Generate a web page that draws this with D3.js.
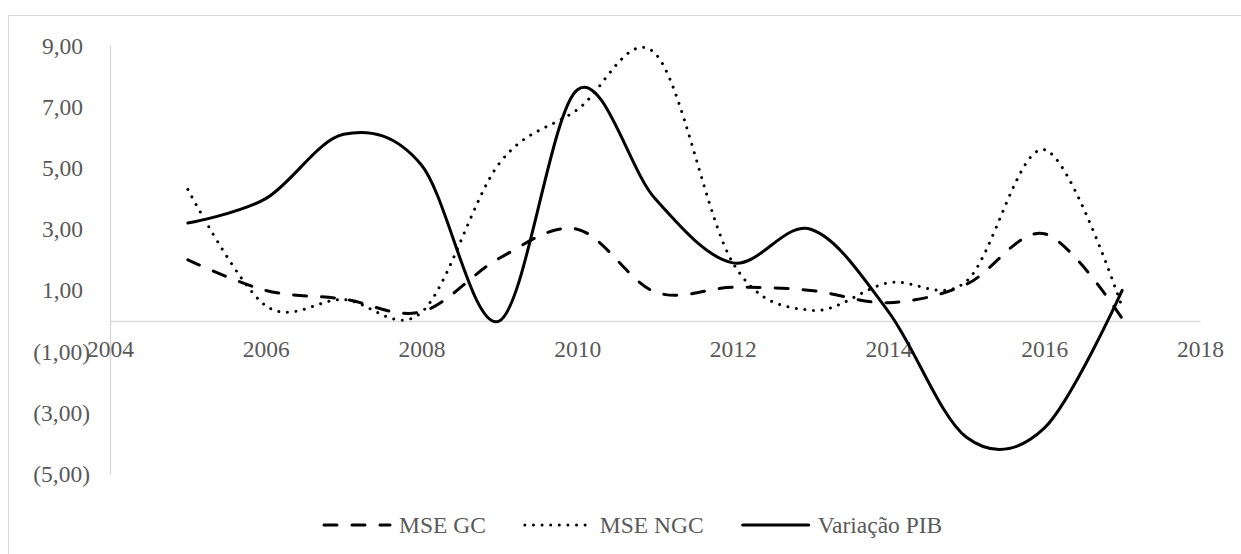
<!DOCTYPE html>
<html>
<head>
<meta charset="utf-8">
<script src="https://cdn.jsdelivr.net/npm/d3@7"></script>
<style>
  body { margin: 0; background: white; }
  text { font-family: "Liberation Serif", "Times New Roman", serif; fill: #595959; }
</style>
</head>
<body>
<div id="grafico"></div>
<script>
// dados
var anos = [2005, 2006, 2007, 2008, 2009, 2010, 2011, 2012, 2013, 2014, 2015, 2016, 2017];
var mseGC = [2.0, 1.0, 0.72, 0.3, 2.05, 3.0, 0.95, 1.1, 1.0, 0.6, 1.2, 2.85, 0.08];
var mseNGC = [4.3, 0.5, 0.7, 0.28, 5.15, 6.9, 8.75, 1.9, 0.35, 1.25, 1.3, 5.6, 0.45];
var variacaoPIB = [3.2, 4.0, 6.1, 5.1, 0.0, 7.55, 4.0, 1.9, 3.0, 0.3, -3.8, -3.5, 1.0];

var ticksX = [2004, 2006, 2008, 2010, 2012, 2014, 2016, 2018];
var ticksY = [-5, -3, -1, 1, 3, 5, 7, 9];

var series = [
  { nome: "MSE GC", valores: mseGC, dash: "13,15" },
  { nome: "MSE NGC", valores: mseNGC, dash: "0.01,8.6" },
  { nome: "Variação PIB", valores: variacaoPIB, dash: null }
];

var W = 1241, H = 554;

var svg = d3.select("#grafico")
  .append("svg")
  .attr("width", W)
  .attr("height", H);

// moldura do gráfico
svg.append("rect")
  .attr("x", 8.5)
  .attr("y", 15.5)
  .attr("width", 1400)
  .attr("height", 700)
  .attr("fill", "white")
  .attr("stroke", "#d9d9d9")
  .attr("stroke-width", 1);

var xscale = d3.scaleLinear()
  .domain([2004, 2018])
  .range([110, 1200]);

var yscale = d3.scaleLinear()
  .domain([-5, 9])
  .range([474, 45.6]);

var formatNum = function (d) {
  var s = d3.format(".2f")(Math.abs(d)).replace(".", ",");
  return d < 0 ? "(" + s + ")" : s;
};

// eixo Y
var yAxis = svg.append("g")
  .attr("class", "yAxis")
  .attr("transform", "translate(" + xscale(2004) + ",0)")
  .call(d3.axisLeft(yscale).tickValues(ticksY).tickFormat(formatNum).tickSize(0).tickSizeOuter(0));

yAxis.select(".domain").attr("stroke", "#d9d9d9").attr("stroke-width", 1.3);
yAxis.selectAll("text")
  .attr("x", d => d < 0 ? -20 : -27)
  .attr("dy", "0.32em")
  .style("font-size", "23.5px")
  .style("fill", "#595959");

// eixo X (em y = 0)
var xAxis = svg.append("g")
  .attr("class", "xAxis")
  .attr("transform", "translate(0," + yscale(0) + ")")
  .call(d3.axisBottom(xscale).tickValues(ticksX).tickFormat(d3.format("d")).tickSize(0).tickSizeOuter(0));

xAxis.select(".domain").attr("stroke", "#d9d9d9").attr("stroke-width", 1.3);
xAxis.selectAll("text")
  .attr("y", 36)
  .attr("dy", 0)
  .style("font-size", "23.5px")
  .style("fill", "#595959");

var linha = d3.line()
  .x(function (d, i) { return xscale(anos[i]) })
  .y(function (d) { return yscale(d) })
  .curve(d3.curveCardinal.tension(0));

series.forEach(function (s) {
  svg.append("path")
    .datum(s.valores)
    .attr("fill", "none")
    .attr("stroke", "black")
    .attr("stroke-width", 3)
    .attr("stroke-linecap", "round")
    .attr("stroke-dasharray", s.dash)
    .attr("d", linha);
});

// legenda
var legenda = svg.append("g").attr("class", "legenda");
var lx = 322, ly = 525;
series.forEach(function (s) {
  legenda.append("line")
    .attr("x1", lx + 2)
    .attr("x2", lx + 68)
    .attr("y1", ly)
    .attr("y2", ly)
    .attr("stroke", "black")
    .attr("stroke-width", 3)
    .attr("stroke-linecap", "round")
    .attr("stroke-dasharray", s.dash);
  var t = legenda.append("text")
    .attr("x", lx + 77)
    .attr("y", ly + 7.5)
    .style("font-size", "23.5px")
    .text(s.nome);
  lx = lx + 77 + t.node().getComputedTextLength() + 37;
});
</script>
</body>
</html>
